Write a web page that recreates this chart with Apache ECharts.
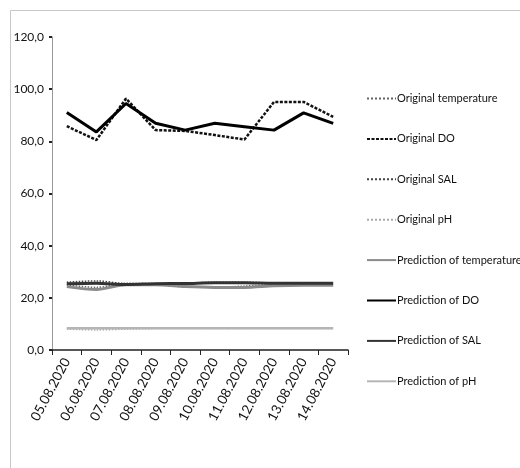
<!DOCTYPE html>
<html><head><meta charset="utf-8">
<script src="https://cdn.jsdelivr.net/npm/echarts@6/dist/echarts.min.js"></script>
<style>html,body{margin:0;padding:0;background:#fff}#c{width:520px;height:468px}</style>
</head><body><div id="c"></div>
<script>
const categories = ['05.08.2020','06.08.2020','07.08.2020','08.08.2020','09.08.2020','10.08.2020','11.08.2020','12.08.2020','13.08.2020','14.08.2020'];
const origTemp = [25.0, 24.0, 25.5, 25.0, 24.2, 24.0, 24.5, 25.0, 25.0, 25.0];
const origDO   = [85.8, 80.5, 96.4, 84.3, 84.0, 82.4, 80.7, 95.1, 95.1, 89.4];
const origSAL  = [26.0, 26.5, 25.5, 25.5, 25.6, 26.0, 26.0, 25.6, 25.5, 25.5];
const origPH   = [8.0, 7.7, 8.0, 8.2, 8.2, 8.2, 8.2, 8.2, 8.2, 8.2];
const predTemp = [24.3, 23.2, 25.0, 25.0, 24.3, 24.0, 24.0, 24.6, 24.8, 24.8];
const predDO   = [91.1, 83.6, 94.5, 86.9, 84.3, 86.9, 85.6, 84.3, 90.9, 86.9];
const predSAL  = [25.4, 25.6, 25.1, 25.4, 25.5, 25.8, 25.8, 25.6, 25.6, 25.6];
const predPH   = [8.3, 8.3, 8.3, 8.3, 8.3, 8.3, 8.3, 8.3, 8.3, 8.3];
const yTicks = {min: 0, max: 120, interval: 20};

const FONT = 'Lato, sans-serif';
function s(name, data, color, width, type, smooth) {
  return {name, type: 'line', data, symbol: 'none', legendIcon: 'none', smooth: smooth || false,
    lineStyle: {color, width, type}, itemStyle: {color}};
}
const chart = echarts.init(document.getElementById('c'));
chart.setOption({
  animation: false,
  textStyle: {fontFamily: FONT},
  graphic: [{type: 'rect', shape: {x: 10.5, y: 10.5, width: 540, height: 500},
    style: {fill: 'none', stroke: '#c8c8c8', lineWidth: 1}, silent: true}],
  grid: {left: 52, right: 172, top: 37, bottom: 118},
  legend: {
    orient: 'vertical', left: 361, top: 88, itemWidth: 29, itemHeight: 10, itemGap: 29.4,
    itemStyle: {opacity: 0},
    textStyle: {fontFamily: FONT, fontSize: 11, color: '#111', padding: [0, 0, 0, -4]},
    data: ['Original temperature','Original DO','Original SAL','Original pH',
           'Prediction of temperature','Prediction of DO','Prediction of SAL','Prediction of pH']
  },
  xAxis: {
    type: 'category', data: categories, boundaryGap: true,
    axisLine: {lineStyle: {color: '#222', width: 1.5}},
    axisTick: {show: true, length: 5, lineStyle: {color: '#222'}},
    axisLabel: {rotate: 62, fontFamily: FONT, fontSize: 13.5, color: '#111', margin: 9, interval: 0}
  },
  yAxis: {
    type: 'value', min: yTicks.min, max: yTicks.max, interval: yTicks.interval,
    splitLine: {show: false},
    axisLine: {show: true, lineStyle: {color: '#999'}},
    axisTick: {show: true, length: 3, lineStyle: {color: '#222', width: 2}},
    axisLabel: {fontFamily: FONT, fontSize: 12, color: '#111', margin: 8,
      formatter: v => v.toFixed(1).replace('.', ',')}
  },
  series: [
    s('Original temperature', origTemp, '#666', 1.5, 'dotted', 0.3),
    s('Original DO', origDO, '#111', 2.5, [3, 1.5]),
    s('Original SAL', origSAL, '#444', 1.5, 'dotted', 0.3),
    s('Original pH', origPH, '#aaa', 1.5, 'dotted', 0.3),
    s('Prediction of temperature', predTemp, '#8a8a8a', 3, 'solid', 0.3),
    s('Prediction of DO', predDO, '#000', 3, 'solid'),
    s('Prediction of SAL', predSAL, '#333', 3, 'solid', 0.3),
    s('Prediction of pH', predPH, '#b5b5b5', 2.5, 'solid')
  ]
});
</script></body></html>
